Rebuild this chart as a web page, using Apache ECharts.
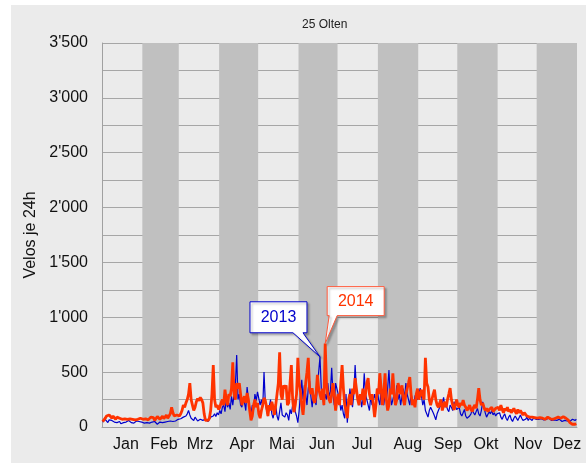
<!DOCTYPE html>
<html>
<head>
<meta charset="utf-8">
<title>25 Olten</title>
<script src="https://cdn.jsdelivr.net/npm/echarts@6/dist/echarts.min.js"></script>
<style>
    html, body { margin: 0; padding: 0; background: #ffffff; }
    #chart { width: 586px; height: 463px; }
</style>
</head>
<body>
<div id="chart"></div>
<script>
var monthNames = ['Jan', 'Feb', 'Mrz', 'Apr', 'Mai', 'Jun', 'Jul', 'Aug', 'Sep', 'Okt', 'Nov', 'Dez'];
var monthStarts = [0, 31, 59, 90, 120, 151, 181, 212, 243, 273, 304, 334, 365];
var monthLabelDays = [18.4, 47.6, 75.3, 107.6, 138.3, 169, 199.8, 235, 265.9, 295, 327.3, 357.3];

// Velos je 24h, 2013 (daily)
var v2013_jan = [45, 60, 70, 55, 40, 65, 75, 60, 50, 45, 55, 40, 35, 50, 30, 25, 40, 55, 45, 50, 60, 50, 40, 45, 35, 45, 55, 40, 50, 55, 45];
var v2013_feb = [40, 35, 30, 40, 50, 35, 30, 45, 40, 50, 35, 25, 35, 45, 55, 40, 35, 45, 55, 50, 40, 55, 45, 50, 60, 55, 65, 70];
var v2013_mar = [60, 75, 70, 90, 85, 100, 120, 150, 110, 80, 70, 60, 90, 75, 55, 50, 70, 85, 60, 55, 75, 65, 50, 70, 90, 80, 100, 120, 95, 130, 110];
var v2013_apr = [150, 120, 180, 200, 140, 250, 180, 220, 160, 280, 200, 300, 380, 655, 250, 300, 200, 180, 260, 220, 150, 365, 250, 180, 120, 200, 160, 300, 240, 320];
var v2013_may = [320, 200, 250, 180, 500, 220, 150, 100, 180, 250, 120, 80, 150, 200, 100, 60, 140, 220, 110, 100, 90, 130, 110, 60, 160, 120, 200, 250, 140, 100, 40];
var v2013_jun = [150, 300, 430, 250, 380, 300, 200, 350, 420, 280, 180, 300, 250, 200, 380, 500, 640, 350, 280, 200, 300, 250, 400, 280, 320, 540, 300, 200, 400, 350];
var v2013_jul = [300, 250, 150, 200, 120, 80, 300, 40, 200, 350, 250, 180, 300, 565, 350, 250, 200, 300, 180, 250, 490, 300, 250, 200, 150, 280, 200, 250, 300, 220, 350];
var v2013_aug = [250, 200, 340, 280, 200, 300, 250, 350, 520, 300, 200, 250, 300, 200, 380, 250, 300, 200, 280, 350, 250, 400, 300, 250, 200, 300, 250, 200, 280, 310, 250];
var v2013_sep = [300, 355, 280, 200, 250, 150, 120, 90, 150, 180, 190, 130, 100, 65, 120, 150, 180, 200, 220, 270, 180, 200, 160, 140, 200, 180, 150, 230, 190, 160];
var v2013_oct = [150, 180, 120, 100, 130, 160, 100, 80, 65, 100, 120, 150, 130, 110, 140, 170, 120, 100, 150, 230, 180, 130, 90, 100, 140, 120, 150, 110, 130, 100, 120];
var v2013_nov = [110, 130, 90, 70, 100, 120, 80, 60, 90, 110, 70, 50, 80, 100, 90, 60, 70, 110, 80, 60, 50, 70, 90, 60, 80, 70, 60, 80, 90, 70];
var v2013_dec = [80, 70, 60, 75, 90, 65, 55, 70, 60, 80, 70, 60, 50, 65, 75, 60, 55, 70, 60, 50, 45, 60, 70, 55, 40, 50, 60, 70, 80, 60, 70];

// Velos je 24h, 2014 (daily)
var v2014_jan = [50, 45, 80, 100, 90, 110, 95, 80, 100, 85, 70, 90, 75, 80, 65, 70, 60, 75, 80, 70, 65, 75, 60, 70, 80, 65, 75, 70, 60, 80, 85];
var v2014_feb = [70, 60, 75, 80, 65, 70, 90, 75, 85, 60, 70, 95, 80, 70, 85, 100, 75, 90, 110, 80, 95, 120, 180, 130, 100, 90, 110, 120];
var v2014_mar = [100, 120, 150, 200, 180, 220, 250, 300, 400, 250, 200, 150, 180, 230, 260, 240, 270, 250, 220, 120, 60, 45, 60, 80, 150, 300, 565, 250, 180, 200, 160];
var v2014_apr = [180, 220, 250, 200, 340, 250, 200, 300, 280, 350, 590, 300, 250, 400, 350, 400, 300, 200, 250, 280, 220, 310, 250, 150, 60, 100, 200, 250, 180, 220];
var v2014_may = [120, 80, 150, 200, 265, 240, 180, 100, 200, 150, 230, 180, 110, 200, 300, 400, 680, 300, 250, 380, 350, 380, 200, 220, 400, 565, 250, 135, 200, 300, 630];
var v2014_jun = [400, 320, 200, 110, 250, 400, 500, 630, 350, 300, 355, 250, 220, 300, 475, 350, 300, 250, 350, 200, 760, 400, 300, 250, 220, 300, 400, 300, 150, 250];
var v2014_jul = [300, 200, 400, 565, 350, 200, 150, 80, 250, 300, 200, 350, 300, 445, 350, 250, 200, 300, 250, 350, 200, 300, 400, 445, 300, 250, 300, 200, 90, 200, 350];
var v2014_aug = [300, 490, 350, 200, 300, 490, 250, 150, 200, 350, 300, 490, 300, 200, 250, 400, 350, 300, 380, 250, 200, 300, 350, 400, 455, 300, 200, 250, 180, 300, 350];
var v2014_sep = [250, 300, 340, 280, 250, 630, 400, 365, 250, 200, 250, 300, 340, 250, 200, 180, 220, 250, 150, 200, 230, 180, 250, 300, 355, 250, 200, 155, 200, 250];
var v2014_oct = [200, 180, 220, 200, 245, 200, 180, 150, 170, 200, 160, 140, 180, 200, 170, 250, 355, 250, 200, 220, 180, 150, 170, 140, 160, 150, 180, 140, 150, 170, 160];
var v2014_nov = [180, 150, 200, 160, 130, 170, 150, 180, 140, 160, 130, 150, 170, 140, 120, 160, 130, 150, 140, 110, 130, 120, 100, 110, 90, 80, 90, 75, 85, 80];
var v2014_dec = [80, 75, 85, 70, 80, 75, 70, 80, 90, 85, 75, 80, 70, 85, 80, 75, 90, 85, 80, 90, 95, 85, 80, 75, 60, 40, 30, 25, 20, 25, 30];

// days the two callouts point at (day of year, 0-based)
var calloutDay2013 = 167;
var calloutDay2014 = 171;

var days2013 = [].concat(v2013_jan, v2013_feb, v2013_mar, v2013_apr, v2013_may, v2013_jun,
    v2013_jul, v2013_aug, v2013_sep, v2013_oct, v2013_nov, v2013_dec);
var days2014 = [].concat(v2014_jan, v2014_feb, v2014_mar, v2014_apr, v2014_may, v2014_jun,
    v2014_jul, v2014_aug, v2014_sep, v2014_oct, v2014_nov, v2014_dec);

var FONT = 'Liberation Sans, Arial, sans-serif';
var BLUE = '#0000cc';
var RED = '#ff3300';

function toPoints(arr) {
    var out = [];
    for (var i = 0; i < arr.length; i++) {
        out.push([i + 0.5, arr[i]]);
    }
    return out;
}

function fmtThousands(v) {
    if (v < 1000) return String(v);
    var rest = String(v % 1000);
    while (rest.length < 3) rest = '0' + rest;
    return Math.floor(v / 1000) + "'" + rest;
}

// grey bands for every second month
var bands = [];
for (var m = 1; m < 12; m += 2) {
    bands.push([{ xAxis: monthStarts[m] }, { xAxis: monthStarts[m + 1] }]);
}

var chart = echarts.init(document.getElementById('chart'));

var option = {
    animation: false,
    backgroundColor: '#ebebeb',
    title: {
        text: '25 Olten',
        left: 297,
        top: 14,
        textStyle: { fontFamily: FONT, fontSize: 12, fontWeight: 'normal', color: '#222' }
    },
    grid: { left: 102, right: 9, top: 43, bottom: 36 },
    xAxis: {
        type: 'value',
        min: 0,
        max: 365,
        axisLine: { show: true, lineStyle: { color: '#a0a0a0', width: 1 } },
        axisTick: { show: false },
        splitLine: { show: false },
        axisLabel: {
            customValues: monthLabelDays,
            margin: 10,
            fontFamily: FONT,
            fontSize: 16,
            color: '#111',
            formatter: function(v) {
                var idx = monthLabelDays.indexOf(v);
                return idx >= 0 ? monthNames[idx] : '';
            }
        }
    },
    yAxis: {
        type: 'value',
        min: 0,
        max: 3500,
        interval: 250,
        name: 'Velos je 24h',
        nameLocation: 'middle',
        nameRotate: 90,
        nameGap: 62,
        nameTextStyle: { fontFamily: FONT, fontSize: 16, color: '#111' },
        axisLine: { show: true, lineStyle: { color: '#a0a0a0', width: 1 } },
        axisTick: { show: false },
        splitLine: { show: true, lineStyle: { color: '#a6a6a6', width: 1 } },
        axisLabel: {
            margin: 14,
            fontFamily: FONT,
            fontSize: 16,
            color: '#111',
            formatter: function(v) {
                return v % 500 === 0 ? fmtThousands(v) : '';
            }
        }
    },
    series: [{
        name: '2013',
        type: 'line',
        data: toPoints(days2013),
        showSymbol: false,
        z: 3,
        lineStyle: { color: BLUE, width: 1.2 },
        markArea: {
            silent: true,
            z: 1,
            itemStyle: { color: '#c0c0c0', opacity: 1 },
            data: bands
        }
    }, {
        name: '2014',
        type: 'line',
        data: toPoints(days2014),
        showSymbol: false,
        z: 4,
        lineStyle: { color: RED, width: 2.8 }
    }]
};

chart.setOption(option);

// callout boxes with a pointer
function callout(tip, box, base, stroke, textColor, label) {
    return [{
        type: 'polygon',
        z: 100,
        shape: {
            points: [
                [box.x1, box.y1], [box.x2, box.y1], [box.x2, box.y2],
                [base[1], box.y2], [tip[0], tip[1]], [base[0], box.y2], [box.x1, box.y2]
            ]
        },
        style: { fill: '#ffffff', stroke: stroke, lineWidth: 1, shadowColor: 'rgba(0,0,0,0.25)', shadowOffsetX: 2, shadowOffsetY: 2, shadowBlur: 2 }
    }, {
        type: 'text',
        z: 101,
        x: (box.x1 + box.x2) / 2,
        y: (box.y1 + box.y2) / 2,
        style: {
            text: label,
            fill: textColor,
            font: '16px ' + FONT,
            align: 'center',
            verticalAlign: 'middle'
        }
    }];
}

var tip13 = chart.convertToPixel({ gridIndex: 0 }, [calloutDay2013 + 0.5, days2013[calloutDay2013]]);
var tip14 = chart.convertToPixel({ gridIndex: 0 }, [calloutDay2014 + 0.5, days2014[calloutDay2014]]);

var elements = [
    { type: 'rect', shape: { x: 0, y: 0, width: 11, height: 463 }, style: { fill: '#ffffff' }, z: 50 },
    { type: 'rect', shape: { x: 0, y: 0, width: 586, height: 5 }, style: { fill: '#ffffff' }, z: 50 }
];
elements = elements.concat(callout(
    tip13,
    { x1: tip13[0] - 70, x2: tip13[0] - 13, y1: tip13[1] - 55, y2: tip13[1] - 24 },
    [tip13[0] - 27, tip13[0] - 17],
    BLUE, BLUE, '2013'
));
elements = elements.concat(callout(
    tip14,
    { x1: tip14[0] + 2, x2: tip14[0] + 59, y1: tip14[1] - 57, y2: tip14[1] - 28 },
    [tip14[0] + 4, tip14[0] + 12],
    '#ff5a3c', RED, '2014'
));

chart.setOption({ graphic: { elements: elements } });
</script>
</body>
</html>
